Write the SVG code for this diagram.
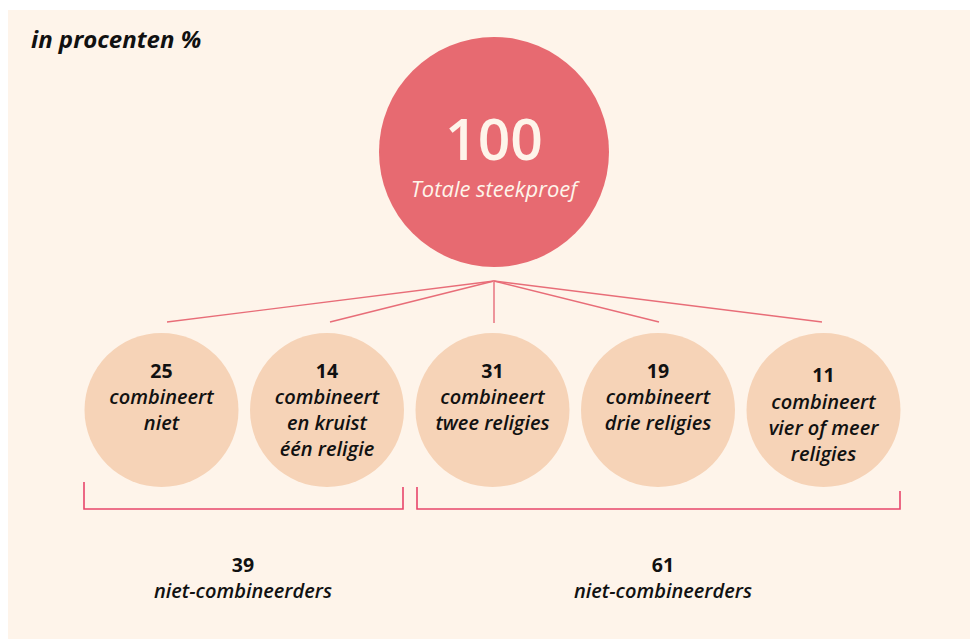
<svg xmlns="http://www.w3.org/2000/svg" width="970" height="639" viewBox="0 0 970 639">
<style>
.t{font-family:"Open Sans","Noto Sans","Liberation Sans",sans-serif;fill:#111;text-anchor:middle}
.n{font-weight:700;font-size:19.5px}
.l{font-weight:600;font-style:italic;font-size:20px}
.sm{fill:#f6d3b7}
.cn{stroke:#e86d78;stroke-width:1.4;fill:none}
.br{stroke:#e8456b;stroke-width:1.6;fill:none}
</style>
<rect x="0" y="0" width="970" height="639" fill="#ffffff"/>
<rect x="8" y="10" width="962" height="629" fill="#fef4ea"/>
<text x="31" y="48" class="t" style="text-anchor:start;font-weight:700;font-style:italic;font-size:24px">in procenten %</text>
<g id="connectors">
<line class="cn" x1="494" y1="281" x2="167" y2="322"/>
<line class="cn" x1="494" y1="281" x2="330" y2="322"/>
<line x1="494" y1="281" x2="494" y2="323" stroke="#ec8a92" stroke-width="1.8"/>
<line class="cn" x1="494" y1="281" x2="659" y2="322"/>
<line class="cn" x1="494" y1="281" x2="822" y2="322"/>
<polyline class="br" points="84,482 84,509 403,509 403,487"/>
<polyline class="br" points="417,487 417,509 900,509 900,491"/>
</g>
<g id="total">
<circle cx="494" cy="152" r="115" fill="#e76a71"/>
<text x="494" y="160" class="t" style="fill:#fef4ea;font-size:57px;font-weight:600">100</text>
<text x="494" y="197" class="t" style="fill:#fef4ea;font-size:22px;font-style:italic;font-weight:500">Totale steekproef</text>
</g>
<g id="n25">
<circle class="sm" cx="161.5" cy="410" r="77"/>
<text x="161.5" y="378" class="t n">25</text>
<text x="161.5" y="404" class="t l">combineert</text>
<text x="161.5" y="430" class="t l">niet</text>
</g>
<g id="n14">
<circle class="sm" cx="327" cy="410" r="77"/>
<text x="327" y="378" class="t n">14</text>
<text x="327" y="404" class="t l">combineert</text>
<text x="327" y="430" class="t l">en kruist</text>
<text x="327" y="456" class="t l">één religie</text>
</g>
<g id="n31">
<circle class="sm" cx="492.5" cy="410" r="77"/>
<text x="492.5" y="378" class="t n">31</text>
<text x="492.5" y="404" class="t l">combineert</text>
<text x="492.5" y="430" class="t l">twee religies</text>
</g>
<g id="n19">
<circle class="sm" cx="658" cy="410" r="77"/>
<text x="658" y="378" class="t n">19</text>
<text x="658" y="404" class="t l">combineert</text>
<text x="658" y="430" class="t l">drie religies</text>
</g>
<g id="n11">
<circle class="sm" cx="823.5" cy="410" r="77"/>
<text x="823.5" y="382" class="t n">11</text>
<text x="823.5" y="409" class="t l">combineert</text>
<text x="823.5" y="435" class="t l">vier of meer</text>
<text x="823.5" y="461" class="t l">religies</text>
</g>
<g id="sum39">
<text x="243" y="572" class="t n">39</text>
<text x="243" y="598" class="t l">niet-combineerders</text>
</g>
<g id="sum61">
<text x="663" y="572" class="t n">61</text>
<text x="663" y="598" class="t l">niet-combineerders</text>
</g>
</svg>
